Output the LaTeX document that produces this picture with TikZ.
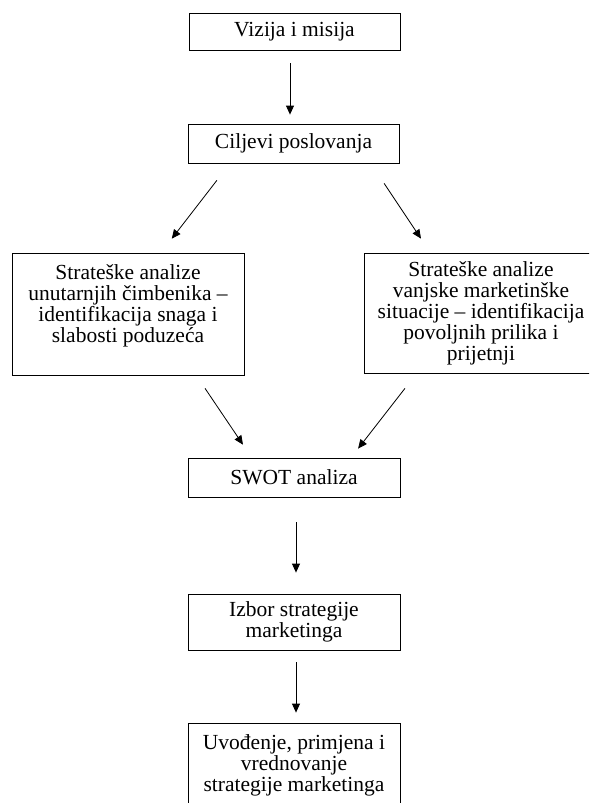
\documentclass[tikz,border=0pt]{standalone}
\usepackage{fontspec}
\setmainfont{Liberation Serif}
\usetikzlibrary{arrows.meta}
\begin{document}
\begin{tikzpicture}[x=1pt, y=-1pt, line width=0.8pt,
  font=\fontsize{21.5}{21}\selectfont,
  box/.style={draw, align=center, inner sep=0pt},
  arr/.style={-{Triangle[width=8pt,length=9pt]}}]
  \clip (0,0) rectangle (589,803);
  \node[box, minimum width=211, minimum height=37] (vizija) at (294.5,31.5) {Vizija i misija};
  \node[box, minimum width=211, minimum height=39] (ciljevi) at (293.5,143.5) {Ciljevi poslovanja};
  \node[box, minimum width=232, minimum height=122] (unutarnje) at (128,314) {Strateške analize\\unutarnjih čimbenika –\\identifikacija snaga i\\slabosti poduzeća\\\mbox{}};
  \node[box, minimum width=234, minimum height=120] (vanjske) at (481,313) {Strateške analize\\vanjske marketinške\\situacije – identifikacija\\povoljnih prilika i\\prijetnji};
  \node[box, minimum width=212, minimum height=39] (swot) at (294,477.5) {SWOT analiza};
  \node[box, minimum width=212, minimum height=56] (izbor) at (294,622) {Izbor strategije\\marketinga};
  \node[box, minimum width=212, minimum height=84] (uvodenje) at (294,765) {Uvođenje, primjena i\\vrednovanje\\strategije marketinga};
  % arrows
  \draw[arr, shorten <=13pt, shorten >=9pt] ([xshift=-4.5]vizija.south) -- ([xshift=-3.5]ciljevi.north);
  \draw[arr, shorten <=21.4pt, shorten >=17.6pt] ([xshift=-63.5]ciljevi.south) -- ([xshift=33]unutarnje.north);
  \draw[arr, shorten <=24pt, shorten >=16.8pt] ([xshift=77.3]ciljevi.south) -- ([xshift=-50.7]vanjske.north);
  \draw[arr, shorten <=15.6pt, shorten >=15.6pt] ([xshift=68.3]unutarnje.south) -- ([xshift=-42.3]swot.north);
  \draw[arr, shorten <=18.9pt, shorten >=11.4pt] ([xshift=-64.4]vanjske.south) -- ([xshift=57.1]swot.north);
  \draw[arr, shorten <=25pt, shorten >=21pt] ([xshift=2]swot.south) -- ([xshift=2]izbor.north);
  \draw[arr, shorten <=12pt, shorten >=10pt] ([xshift=2]izbor.south) -- ([xshift=2]uvodenje.north);
\end{tikzpicture}
\end{document}
